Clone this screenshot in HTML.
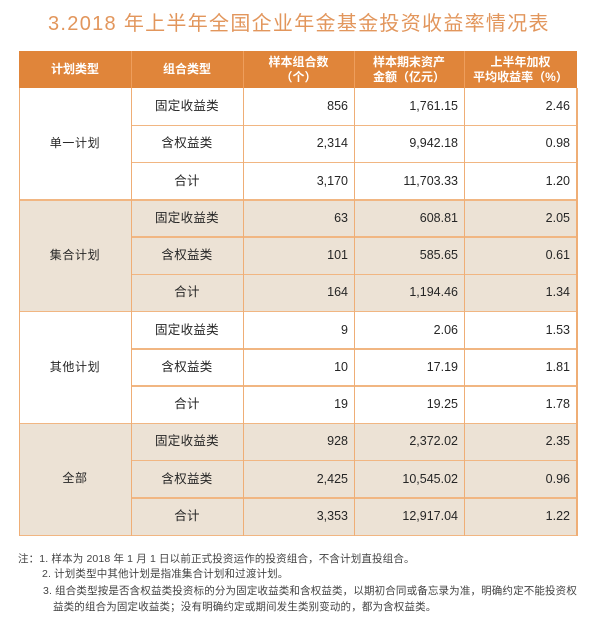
<!DOCTYPE html>
<html>
<head>
<meta charset="utf-8">
<style>
html,body{margin:0;padding:0;background:#fff;}
body{width:600px;height:619px;position:relative;overflow:hidden;font-family:"Liberation Sans","Noto Sans CJK SC",sans-serif;}
.title{position:absolute;left:48px;top:10px;height:28px;line-height:28px;font-size:20px;letter-spacing:1.3px;color:#E2965C;white-space:nowrap;}
.hdr{position:absolute;left:19px;top:51px;width:558px;height:37px;background:#E0853A;}
.hc{position:absolute;top:0;height:37px;color:#fff;font-weight:bold;font-size:12px;text-align:center;display:flex;align-items:center;justify-content:center;line-height:15px;}
.vl{position:absolute;width:1.5px;background:#EFAE76;}
.hvl{position:absolute;top:51px;height:37px;width:1px;background:#EE9E5C;}
.hl{position:absolute;height:1.5px;background:#F1B682;}
.shade{position:absolute;left:19px;width:558px;background:#ECE2D5;}
.row{position:absolute;left:19px;width:558px;height:37.25px;}
.c{position:absolute;top:0;height:37.25px;line-height:37.25px;font-size:12.5px;color:#262626;white-space:nowrap;}
.c2{left:112px;width:112px;text-align:center;letter-spacing:0.3px;}
.c3{left:224px;width:105px;text-align:right;}
.c4{left:335px;width:104px;text-align:right;}
.c5{left:445px;width:106px;text-align:right;}
.g{position:absolute;left:19px;width:112px;text-align:center;font-size:12px;color:#262626;letter-spacing:0.6px;}
.note{position:absolute;font-size:10.5px;color:#444;white-space:nowrap;line-height:14px;letter-spacing:0.15px;}
</style>
</head>
<body>
<div class="title">3.2018 年上半年全国企业年金基金投资收益率情况表</div>

<div class="hdr">
  <div class="hc" style="left:0;width:112px;">计划类型</div>
  <div class="hc" style="left:112px;width:112px;">组合类型</div>
  <div class="hc" style="left:224px;width:111px;">样本组合数<br>（个）</div>
  <div class="hc" style="left:335px;width:110px;">样本期末资产<br>金额（亿元）</div>
  <div class="hc" style="left:445px;width:113px;">上半年加权<br>平均收益率（%）</div>
</div>
<div class="hvl" style="left:131px;"></div>
<div class="hvl" style="left:243px;"></div>
<div class="hvl" style="left:354px;"></div>
<div class="hvl" style="left:464px;"></div>

<div class="shade" style="top:199.75px;height:111.75px;"></div>
<div class="shade" style="top:423.25px;height:111.75px;"></div>

<!-- group labels -->
<div class="g" style="top:88px;height:111.75px;line-height:111.75px;">单一计划</div>
<div class="g" style="top:199.75px;height:111.75px;line-height:111.75px;">集合计划</div>
<div class="g" style="top:311.5px;height:111.75px;line-height:111.75px;">其他计划</div>
<div class="g" style="top:423.25px;height:111.75px;line-height:111.75px;">全部</div>

<!-- rows -->
<div class="row" style="top:88px;"><div class="c c2">固定收益类</div><div class="c c3">856</div><div class="c c4">1,761.15</div><div class="c c5">2.46</div></div>
<div class="row" style="top:125.25px;"><div class="c c2">含权益类</div><div class="c c3">2,314</div><div class="c c4">9,942.18</div><div class="c c5">0.98</div></div>
<div class="row" style="top:162.5px;"><div class="c c2">合计</div><div class="c c3">3,170</div><div class="c c4">11,703.33</div><div class="c c5">1.20</div></div>

<div class="row" style="top:199.75px;"><div class="c c2">固定收益类</div><div class="c c3">63</div><div class="c c4">608.81</div><div class="c c5">2.05</div></div>
<div class="row" style="top:237px;"><div class="c c2">含权益类</div><div class="c c3">101</div><div class="c c4">585.65</div><div class="c c5">0.61</div></div>
<div class="row" style="top:274.25px;"><div class="c c2">合计</div><div class="c c3">164</div><div class="c c4">1,194.46</div><div class="c c5">1.34</div></div>

<div class="row" style="top:311.5px;"><div class="c c2">固定收益类</div><div class="c c3">9</div><div class="c c4">2.06</div><div class="c c5">1.53</div></div>
<div class="row" style="top:348.75px;"><div class="c c2">含权益类</div><div class="c c3">10</div><div class="c c4">17.19</div><div class="c c5">1.81</div></div>
<div class="row" style="top:386px;"><div class="c c2">合计</div><div class="c c3">19</div><div class="c c4">19.25</div><div class="c c5">1.78</div></div>

<div class="row" style="top:423.25px;"><div class="c c2">固定收益类</div><div class="c c3">928</div><div class="c c4">2,372.02</div><div class="c c5">2.35</div></div>
<div class="row" style="top:460.5px;"><div class="c c2">含权益类</div><div class="c c3">2,425</div><div class="c c4">10,545.02</div><div class="c c5">0.96</div></div>
<div class="row" style="top:497.75px;"><div class="c c2">合计</div><div class="c c3">3,353</div><div class="c c4">12,917.04</div><div class="c c5">1.22</div></div>

<!-- horizontal lines (inner, cols 2-5) -->
<div class="hl" style="left:131px;width:446px;top:124.5px;"></div>
<div class="hl" style="left:131px;width:446px;top:161.75px;"></div>
<div class="hl" style="left:131px;width:446px;top:236.25px;"></div>
<div class="hl" style="left:131px;width:446px;top:273.5px;"></div>
<div class="hl" style="left:131px;width:446px;top:348px;"></div>
<div class="hl" style="left:131px;width:446px;top:385.25px;"></div>
<div class="hl" style="left:131px;width:446px;top:459.75px;"></div>
<div class="hl" style="left:131px;width:446px;top:497px;"></div>
<!-- group boundaries full width -->
<div class="hl" style="left:19px;width:558px;top:199px;"></div>
<div class="hl" style="left:19px;width:558px;top:310.75px;"></div>
<div class="hl" style="left:19px;width:558px;top:422.5px;"></div>
<div class="hl" style="left:19px;width:558px;top:534.5px;"></div>

<!-- vertical lines -->
<div class="vl" style="left:18.5px;top:88px;height:448px;"></div>
<div class="vl" style="left:130.5px;top:88px;height:448px;"></div>
<div class="vl" style="left:242.5px;top:88px;height:448px;"></div>
<div class="vl" style="left:353.5px;top:88px;height:448px;"></div>
<div class="vl" style="left:463.5px;top:88px;height:448px;"></div>
<div class="vl" style="left:576px;top:88px;height:448px;"></div>

<!-- notes -->
<div class="note" style="left:18px;top:552px;">注：1. 样本为 2018 年 1 月 1 日以前正式投资运作的投资组合，不含计划直投组合。</div>
<div class="note" style="left:42px;top:567px;">2. 计划类型中其他计划是指准集合计划和过渡计划。</div>
<div class="note" style="left:43px;top:584px;">3. 组合类型按是否含权益类投资标的分为固定收益类和含权益类，以期初合同或备忘录为准，明确约定不能投资权</div>
<div class="note" style="left:53px;top:600px;">益类的组合为固定收益类；没有明确约定或期间发生类别变动的，都为含权益类。</div>
</body>
</html>
